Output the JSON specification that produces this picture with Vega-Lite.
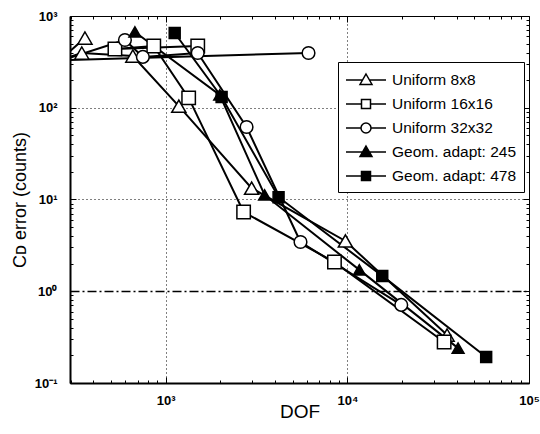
{
  "$schema": "https://vega.github.io/schema/vega-lite/v6.json",
  "autosize": {"type": "none"},
  "padding": {"left": 70, "top": 16, "right": 11, "bottom": 51},
  "width": 459,
  "height": 367,
  "config": {
    "font": "Liberation Sans",
    "view": {"stroke": "black", "strokeWidth": 1},
    "legend": {
      "title": null,
      "orient": "none",
      "legendX": 268,
      "legendY": 46,
      "padding": 7,
      "rowPadding": 4,
      "strokeColor": "black",
      "fillColor": "white",
      "symbolSize": 400,
      "symbolOffset": 10,
      "labelOffset": 15,
      "labelFontSize": 15.5,
      "labelColor": "black",
      "symbolStrokeWidth": 1.5
    }
  },
  "data": {
    "values": [
      {"s": "Uniform 8x8", "i": 0, "x": 359, "y": 575},
      {"s": "Uniform 8x8", "i": 1, "x": 260, "y": 330},
      {"s": "Uniform 8x8", "i": 2, "x": 345, "y": 395},
      {"s": "Uniform 8x8", "i": 3, "x": 659, "y": 366},
      {"s": "Uniform 8x8", "i": 4, "x": 1180, "y": 104},
      {"s": "Uniform 8x8", "i": 5, "x": 2970, "y": 13.3},
      {"s": "Uniform 8x8", "i": 6, "x": 9750, "y": 3.53},
      {"s": "Uniform 8x8", "i": 7, "x": 35400, "y": 0.333},
      {"s": "Uniform 16x16", "i": 0, "x": 1500, "y": 471},
      {"s": "Uniform 16x16", "i": 1, "x": 525, "y": 436},
      {"s": "Uniform 16x16", "i": 2, "x": 859, "y": 471},
      {"s": "Uniform 16x16", "i": 3, "x": 1337, "y": 128},
      {"s": "Uniform 16x16", "i": 4, "x": 2683, "y": 7.3},
      {"s": "Uniform 16x16", "i": 5, "x": 8490, "y": 2.08},
      {"s": "Uniform 16x16", "i": 6, "x": 34100, "y": 0.28},
      {"s": "Uniform 32x32", "i": 0, "x": 6110, "y": 395},
      {"s": "Uniform 32x32", "i": 1, "x": 270, "y": 330},
      {"s": "Uniform 32x32", "i": 2, "x": 596, "y": 548},
      {"s": "Uniform 32x32", "i": 3, "x": 748, "y": 358},
      {"s": "Uniform 32x32", "i": 4, "x": 1500, "y": 395},
      {"s": "Uniform 32x32", "i": 5, "x": 2786, "y": 61.7},
      {"s": "Uniform 32x32", "i": 6, "x": 5520, "y": 3.44},
      {"s": "Uniform 32x32", "i": 7, "x": 19800, "y": 0.71},
      {"s": "Geom. adapt: 245", "i": 0, "x": 676, "y": 670},
      {"s": "Geom. adapt: 245", "i": 1, "x": 1982, "y": 138},
      {"s": "Geom. adapt: 245", "i": 2, "x": 3500, "y": 11.2},
      {"s": "Geom. adapt: 245", "i": 3, "x": 11640, "y": 1.71},
      {"s": "Geom. adapt: 245", "i": 4, "x": 40700, "y": 0.24},
      {"s": "Geom. adapt: 478", "i": 0, "x": 1120, "y": 653},
      {"s": "Geom. adapt: 478", "i": 1, "x": 2030, "y": 131},
      {"s": "Geom. adapt: 478", "i": 2, "x": 4180, "y": 10.6},
      {"s": "Geom. adapt: 478", "i": 3, "x": 15560, "y": 1.47},
      {"s": "Geom. adapt: 478", "i": 4, "x": 58100, "y": 0.192}
    ]
  },
  "layer": [
    {
      "mark": {"type": "line", "color": "black", "strokeWidth": 2, "clip": true},
      "encoding": {
        "x": {
          "field": "x", "type": "quantitative",
          "scale": {"type": "log", "domain": [297, 100000], "nice": false},
          "axis": {
            "orient": "bottom",
            "title": "DOF",
            "titleFontSize": 19,
            "titleFontWeight": "normal",
            "titleColor": "black",
            "titleBaseline": "alphabetic",
            "titleY": 34,
            "values": [300,400,500,600,700,800,900,1000,2000,3000,4000,5000,6000,7000,8000,9000,10000,20000,30000,40000,50000,60000,70000,80000,90000,100000],
            "labelExpr": "datum.value == 1000 ? '10³' : datum.value == 10000 ? '10⁴' : datum.value == 100000 ? '10⁵' : ''",
            "labelFlush": false,
            "labelOverlap": false,
            "labelFontSize": 13,
            "labelFontWeight": "bold",
            "labelColor": "black",
            "labelPadding": 17,
            "domainColor": "black",
            "domainWidth": 2,
            "tickColor": "black",
            "tickWidth": 1,
            "tickSize": {"condition": {"test": "datum.value == pow(10, round(log(datum.value)/LN10))", "value": -6}, "value": -3},
            "grid": true,
            "gridColor": "black",
            "gridDash": [1, 3],
            "gridWidth": 1,
            "gridOpacity": {"condition": {"test": "datum.value == 1000 || datum.value == 10000", "value": 1}, "value": 0}
          }
        },
        "y": {
          "field": "y", "type": "quantitative",
          "scale": {"type": "log", "domain": [0.1, 1000], "nice": false},
          "axis": {
            "orient": "left",
            "title": "Cᴅ error (counts)",
            "titleFontSize": 18,
            "titleFontWeight": "normal",
            "titleColor": "black",
            "titleBaseline": "alphabetic",
            "titleX": -45,
            "values": [0.1,0.2,0.3,0.4,0.5,0.6,0.7,0.8,0.9,1,2,3,4,5,6,7,8,9,10,20,30,40,50,60,70,80,90,100,200,300,400,500,600,700,800,900,1000],
            "labelExpr": "datum.value == 0.1 ? '10⁻¹' : datum.value == 1 ? '10⁰' : datum.value == 10 ? '10¹' : datum.value == 100 ? '10²' : datum.value == 1000 ? '10³' : ''",
            "labelFlush": false,
            "labelOverlap": false,
            "labelFontSize": 13,
            "labelFontWeight": "bold",
            "labelColor": "black",
            "labelPadding": 19,
            "domainColor": "black",
            "domainWidth": 2,
            "tickColor": "black",
            "tickWidth": 1,
            "tickSize": {"condition": {"test": "datum.value == pow(10, round(log(datum.value)/LN10))", "value": -6}, "value": -3},
            "grid": true,
            "gridColor": "black",
            "gridDash": {"condition": {"test": "datum.value == 1", "value": [9, 3, 2, 3]}, "value": [1, 3]},
            "gridWidth": {"condition": {"test": "datum.value == 1", "value": 1.3}, "value": 1},
            "gridOpacity": {"condition": {"test": "datum.value == 1 || datum.value == 10 || datum.value == 100", "value": 1}, "value": 0}
          }
        },
        "detail": {"field": "s"},
        "order": {"field": "i", "type": "quantitative"}
      }
    },
    {
      "mark": {"type": "point", "filled": true, "stroke": "black", "strokeWidth": 1.5, "opacity": 1, "clip": true},
      "encoding": {
        "x": {
          "field": "x", "type": "quantitative",
          "axis": {
            "orient": "top", "title": null, "labels": false, "grid": false, "domain": false,
            "values": [300,400,500,600,700,800,900,1000,2000,3000,4000,5000,6000,7000,8000,9000,10000,20000,30000,40000,50000,60000,70000,80000,90000,100000],
            "tickColor": "black", "tickWidth": 1,
            "tickSize": {"condition": {"test": "datum.value == pow(10, round(log(datum.value)/LN10))", "value": -6}, "value": -3}
          }
        },
        "y": {
          "field": "y", "type": "quantitative",
          "axis": {
            "orient": "right", "title": null, "labels": false, "grid": false, "domain": false,
            "values": [0.1,0.2,0.3,0.4,0.5,0.6,0.7,0.8,0.9,1,2,3,4,5,6,7,8,9,10,20,30,40,50,60,70,80,90,100,200,300,400,500,600,700,800,900,1000],
            "tickColor": "black", "tickWidth": 1,
            "tickSize": {"condition": {"test": "datum.value == pow(10, round(log(datum.value)/LN10))", "value": -6}, "value": -3}
          }
        },
        "shape": {
          "field": "s", "type": "nominal",
          "scale": {"domain": ["Uniform 8x8", "Uniform 16x16", "Uniform 32x32", "Geom. adapt: 245", "Geom. adapt: 478"],
                    "range": ["triangle-up", "square", "circle", "triangle-up", "square"]},
          "legend": null
        },
        "fill": {
          "field": "s", "type": "nominal",
          "scale": {"domain": ["Uniform 8x8", "Uniform 16x16", "Uniform 32x32", "Geom. adapt: 245", "Geom. adapt: 478"],
                    "range": ["white", "white", "white", "black", "black"]},
          "legend": null
        },
        "size": {
          "field": "s", "type": "nominal",
          "scale": {"domain": ["Uniform 8x8", "Uniform 16x16", "Uniform 32x32", "Geom. adapt: 245", "Geom. adapt: 478"],
                    "range": [200, 120, 160, 200, 120]},
          "legend": null
        }
      }
    },
    {
      "transform": [{"filter": "datum.i < 0"}],
      "mark": {"type": "point", "filled": true, "strokeWidth": 1.5, "opacity": 1},
      "encoding": {
        "fill": {
          "field": "s", "type": "nominal",
          "scale": {"domain": ["Uniform 8x8", "Uniform 16x16", "Uniform 32x32", "Geom. adapt: 245", "Geom. adapt: 478"],
                    "range": ["white", "white", "white", "black", "black"]},
          "legend": {}
        },
        "stroke": {
          "field": "s", "type": "nominal",
          "scale": {"domain": ["Uniform 8x8", "Uniform 16x16", "Uniform 32x32", "Geom. adapt: 245", "Geom. adapt: 478"],
                    "range": ["black", "black", "black", "black", "black"]},
          "legend": {}
        },
        "shape": {
          "field": "s", "type": "nominal",
          "scale": {"domain": ["Uniform 8x8", "Uniform 16x16", "Uniform 32x32", "Geom. adapt: 245", "Geom. adapt: 478"],
                    "range": [
                      "M-2,0L-0.34,0M0.34,0L2,0M0,-0.6L0.6,0.45L-0.6,0.45Z",
                      "M-2,0L-0.45,0M0.45,0L2,0M-0.45,-0.45L0.45,-0.45L0.45,0.45L-0.45,0.45Z",
                      "M-2,0L-0.5,0M0.5,0L2,0M0.5,0A0.5,0.5,0,1,1,-0.5,0A0.5,0.5,0,1,1,0.5,0Z",
                      "M-2,0L-0.34,0M0.34,0L2,0M0,-0.6L0.6,0.45L-0.6,0.45Z",
                      "M-2,0L-0.45,0M0.45,0L2,0M-0.45,-0.45L0.45,-0.45L0.45,0.45L-0.45,0.45Z"
                    ]},
          "legend": {}
        }
      }
    }
  ],
  "resolve": {"axis": {"x": "independent", "y": "independent"}, "scale": {"shape": "independent", "fill": "independent", "stroke": "independent"}}
}
